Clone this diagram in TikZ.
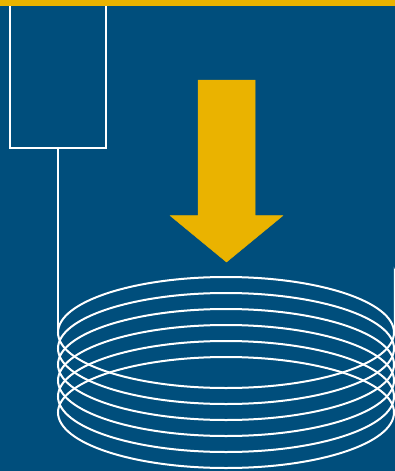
\documentclass[tikz,border=0pt]{standalone}
\definecolor{bgblue}{RGB}{0,78,124}
\definecolor{gold}{RGB}{234,179,0}
\tikzset{
 wire/.style={draw=white,line width=1.9pt},
 coil/.style={draw=white,line width=2pt},
 goldfill/.style={fill=gold,draw=gold,line width=0.5pt,line join=round}
}
\begin{document}
\begin{tikzpicture}[x=1pt,y=-1pt]
\useasboundingbox (0,0) rectangle (395,471);
\fill[bgblue] (0,0) rectangle (395,471);
\draw[wire] (10,6) -- (10,148) -- (106,148) -- (106,6);
\coordinate (boxb) at (58,148);
\coordinate (coilleft) at (58,332);
\draw[wire] (boxb) -- (coilleft);
\foreach \c in {332.5,348.5,364.5,380.5,396.5,412.5}{
  \draw[coil] (226,\c) ellipse [x radius=168, y radius=55.5];
}
\draw[white,line width=2.5pt] (395,332) -- (395,273) arc[start angle=180,end angle=90,radius=2];
\fill[gold] (0,0) rectangle (395,6);
\draw[goldfill] (198,80) -- (255,80) -- (255,215.5) -- (283,215.5) -- (226.5,262) -- (170,215.5) -- (198,215.5) -- cycle;
\end{tikzpicture}
\end{document}
